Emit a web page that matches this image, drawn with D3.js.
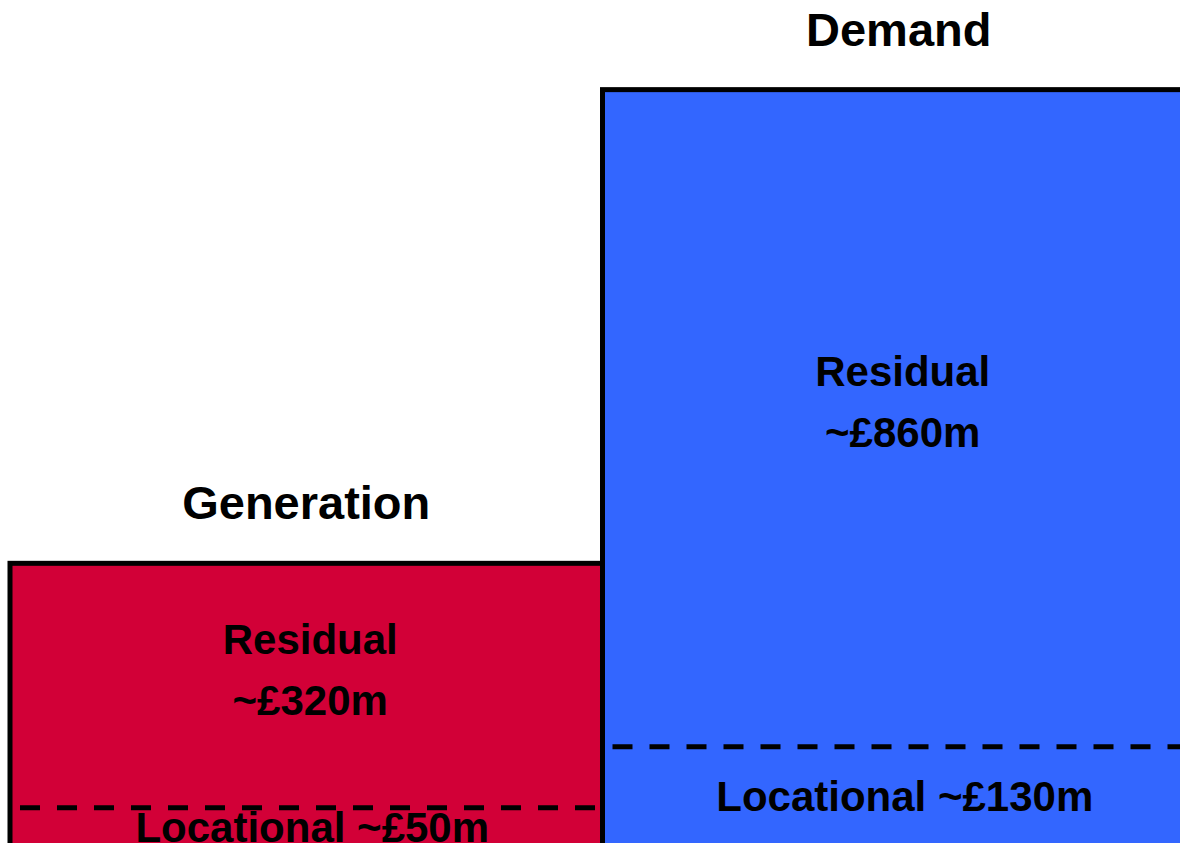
<!DOCTYPE html>
<html>
<head>
<meta charset="utf-8">
<script src="https://cdn.jsdelivr.net/npm/d3@7"></script>
<style>
  html, body { margin: 0; padding: 0; background: #fff; overflow: hidden; }
  svg { display: block; }
  text { font-family: "Liberation Sans", Arial, sans-serif; font-weight: bold; fill: #000; }
</style>
</head>
<body>
<svg id="chart" width="1180" height="843"></svg>
<script>
// ---- data ----
const categories = ["Generation", "Demand"];
const locationalValues = [50, 130];   // £m
const residualValues = [320, 860];    // £m
const residualLabels = ["~£320m", "~£860m"];
const locationalLabels = ["Locational ~£50m", "Locational ~£130m"];
const colors = ["#D20037", "#3366FF"];

const data = categories.map((c, i) => ({
  category: c,
  locational: locationalValues[i],
  residual: residualValues[i],
  total: locationalValues[i] + residualValues[i],
  resLabel: residualLabels[i],
  locLabel: locationalLabels[i],
  color: colors[i]
}));

const svg = d3.select("#chart");

const x = d3.scaleBand().domain(categories).range([10, 1195]).paddingInner(0).paddingOuter(0);
const y = d3.scaleLinear().domain([0, 1000]).range([846, 82]);

const g = svg.selectAll("g.stack").data(data).join("g").attr("class", "stack");

// box
g.append("rect")
  .attr("x", d => x(d.category))
  .attr("y", d => y(d.total))
  .attr("width", x.bandwidth())
  .attr("height", d => y(0) - y(d.total))
  .attr("fill", d => d.color)
  .attr("stroke", "#000")
  .attr("stroke-width", 5);

// dashed divider between locational and residual
g.append("line")
  .attr("x1", d => x(d.category) + 10)
  .attr("x2", d => x(d.category) + x.bandwidth() - 3)
  .attr("y1", d => y(d.locational))
  .attr("y2", d => y(d.locational))
  .attr("stroke", "#000")
  .attr("stroke-width", 5)
  .attr("stroke-dasharray", "20,17");

// title
g.append("text")
  .attr("x", d => x(d.category) + x.bandwidth() / 2)
  .attr("y", d => y(d.total) - 44)
  .attr("text-anchor", "middle")
  .style("font-size", "47px")
  .text(d => d.category);

// residual labels
g.append("text")
  .attr("x", d => x(d.category) + x.bandwidth() / 2 + 4)
  .attr("y", d => (y(d.total) + y(d.locational)) / 2 - 17)
  .attr("text-anchor", "middle")
  .style("font-size", "42px")
  .selectAll("tspan")
  .data(d => ["Residual", d.resLabel])
  .join("tspan")
  .attr("x", function() { return d3.select(this.parentNode).attr("x"); })
  .attr("dy", (t, i) => i === 0 ? "-0.35em" : "1.45em")
  .text(t => t);

// locational labels
g.append("text")
  .attr("x", d => x(d.category) + x.bandwidth() / 2 + 6)
  .attr("y", d => (y(d.locational) + y(0)) / 2)
  .attr("dy", "0.36em")
  .attr("text-anchor", "middle")
  .style("font-size", "42px")
  .text(d => d.locLabel);
</script>
</body>
</html>
